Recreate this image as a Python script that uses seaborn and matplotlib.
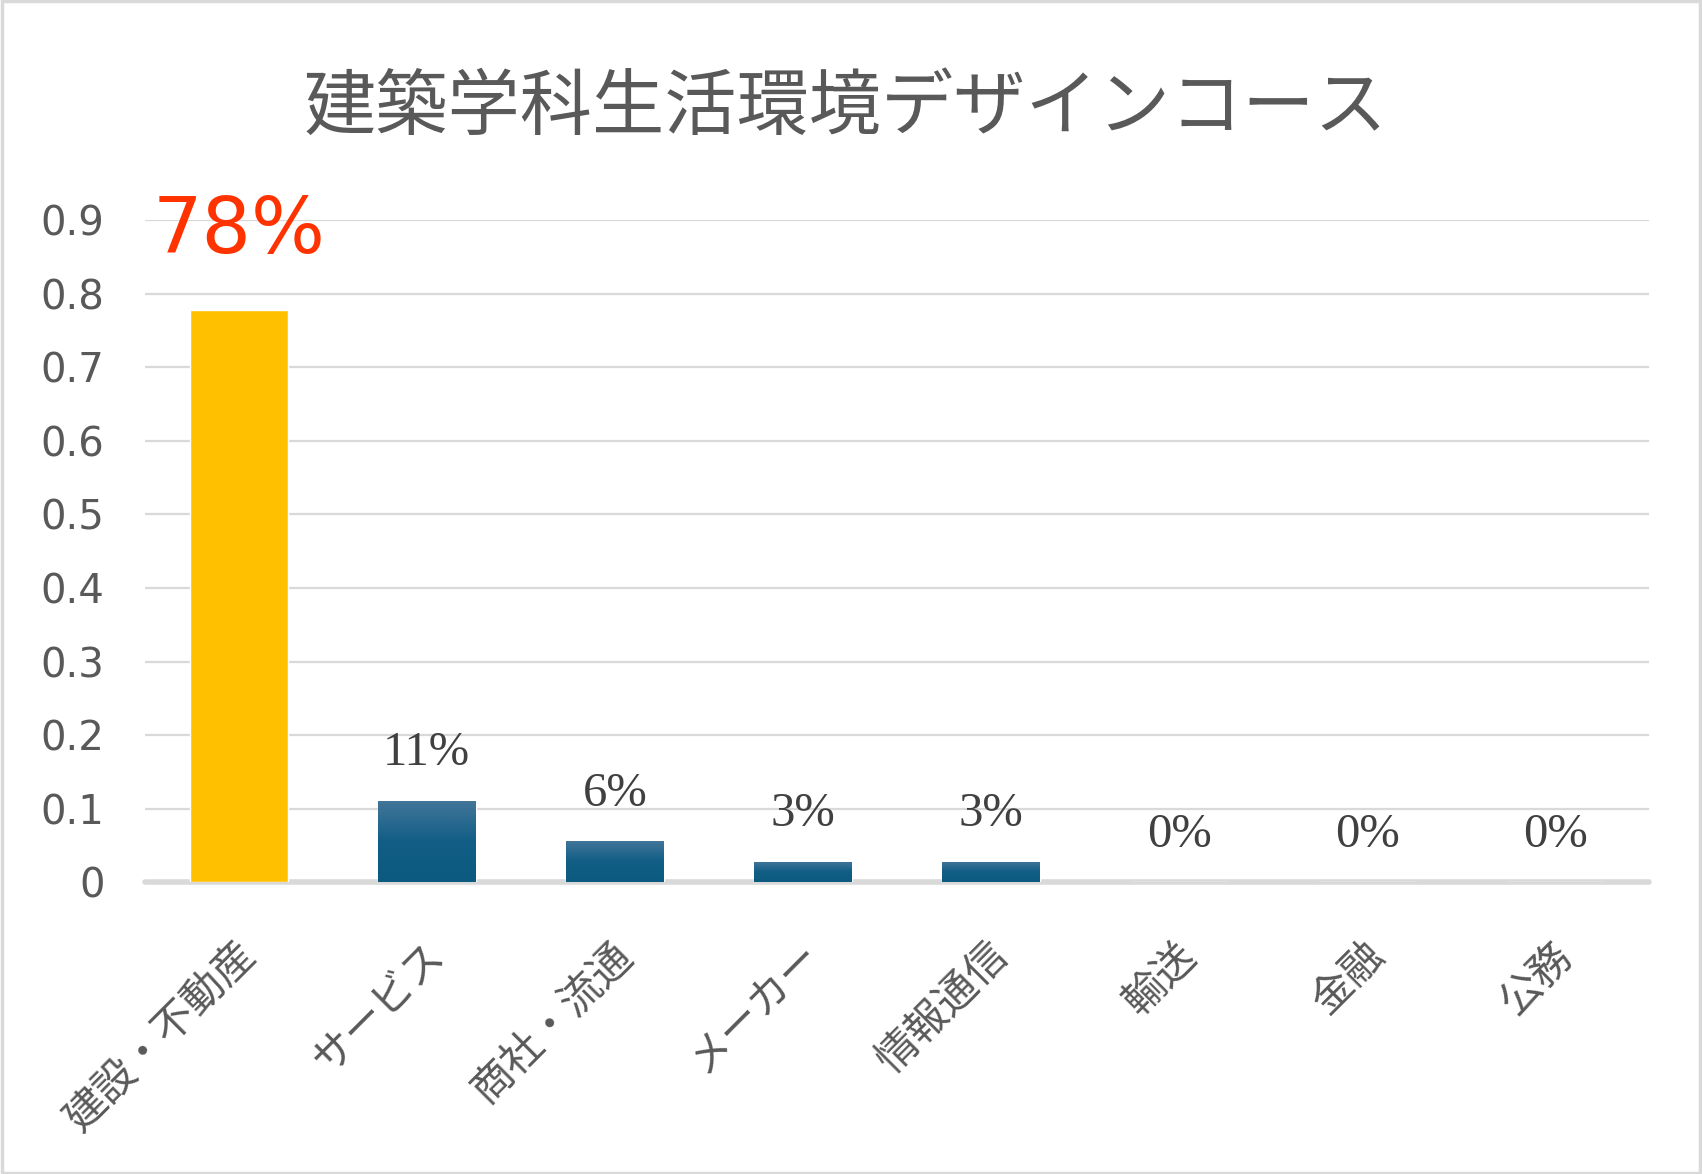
import numpy as np
import pandas as pd
import matplotlib
matplotlib.use("Agg")
import matplotlib.pyplot as plt
import matplotlib.transforms as mtransforms
import matplotlib.patheffects as pe
from matplotlib.colors import LinearSegmentedColormap
import seaborn as sns

# ---- data ----
title = "建築学科生活環境デザインコース"
categories = ["建設・不動産", "サービス", "商社・流通", "メーカー", "情報通信", "輸送", "金融", "公務"]
values = [0.778, 0.111, 0.056, 0.028, 0.028, 0.0, 0.0, 0.0]
yticks = [0, 0.1, 0.2, 0.3, 0.4, 0.5, 0.6, 0.7, 0.8, 0.9]
ytick_labels = ["0", "0.1", "0.2", "0.3", "0.4", "0.5", "0.6", "0.7", "0.8", "0.9"]

GOLD = "#FFC000"
BLUE = "#145F86"
GREY_TXT = "#595959"
GRID = "#D9D9D9"

sns.set_theme(style="white")
plt.rcParams['font.family'] = ['Noto Sans CJK JP', 'DejaVu Sans']

fig = plt.figure(figsize=(17.02, 11.74), dpi=100)
ax = fig.add_axes([0.085, 0.2486, 0.884, 0.5638])

df = pd.DataFrame({"cat": categories, "val": values})
colors = [GOLD] + [BLUE] * (len(categories) - 1)
sns.barplot(data=df, x="cat", y="val", hue="cat", palette=colors, legend=False,
            width=0.52, saturation=1, ax=ax, zorder=3)

ax.set_ylim(0, 0.9)
ax.set_xlim(-0.5, len(categories) - 0.5)
ax.set_yticks(yticks)
ax.set_yticklabels(ytick_labels, family=['DejaVu Sans'], fontsize=29, color=GREY_TXT)
ax.tick_params(axis='y', length=0, pad=29)
ax.tick_params(axis='x', length=0, pad=0)
ax.set_xlabel("")
ax.set_ylabel("")
for s in ax.spines.values():
    s.set_visible(False)
ax.yaxis.grid(True, color=GRID, linewidth=1.6, zorder=0)
ax.set_axisbelow(True)
ax.axhline(0, color=GRID, linewidth=4, zorder=2, clip_on=False)

# gradient + shadow on bars
cmap = LinearSegmentedColormap.from_list("bl", ["#0C5A80", "#125E86", "#44769A"])
grad = np.linspace(0, 1, 256).reshape(-1, 1)
for i, p in enumerate(ax.patches):
    p.set_path_effects([pe.SimplePatchShadow(offset=(0, 0), shadow_rgbFace="#000000", alpha=0.18), pe.Normal()])
    if i > 0 and p.get_height() > 0:
        x0, y0 = p.get_x(), p.get_y()
        w, h = p.get_width(), p.get_height()
        im = ax.imshow(grad, extent=[x0, x0 + w, y0, y0 + h], origin="lower",
                       cmap=cmap, aspect="auto", zorder=4)
        im.set_clip_path(p)
ax.set_xlim(-0.5, len(categories) - 0.5)
ax.set_ylim(0, 0.9)

# x tick labels rotated
ax.set_xticks(range(len(categories)))
ax.set_xticklabels(categories, rotation=45, ha="right", va="center",
                   rotation_mode="anchor", fontsize=30, color=GREY_TXT,
                   family=['Noto Sans CJK JP', 'DejaVu Sans'])
offset = mtransforms.ScaledTranslation(0.11, -0.67, fig.dpi_scale_trans)
for lab in ax.get_xticklabels():
    lab.set_transform(lab.get_transform() + offset)

# value labels
for i, v in enumerate(values):
    txt = f"{v*100:.0f}%"
    if i == 0:
        ax.annotate(txt, (i, v), xytext=(0, 57), textcoords="offset points",
                    ha="center", va="center", fontsize=56, color="#FF3300",
                    family=['DejaVu Sans'], annotation_clip=False)
    else:
        ax.annotate(txt, (i, v), xytext=(0, 34), textcoords="offset points",
                    ha="center", va="center", fontsize=35, color="#404040",
                    family=['Liberation Serif'], annotation_clip=False)

fig.text(0.497, 0.9076, title, ha="center", va="center", fontsize=52,
         color=GREY_TXT, family=['Noto Sans CJK JP', 'DejaVu Sans'])

# figure border
fig.patches.append(plt.Rectangle((0.001, 0.001), 0.998, 0.998, transform=fig.transFigure,
                                 fill=False, edgecolor=GRID, linewidth=2.5))

fig.savefig("out.png", dpi=100, facecolor="white")
